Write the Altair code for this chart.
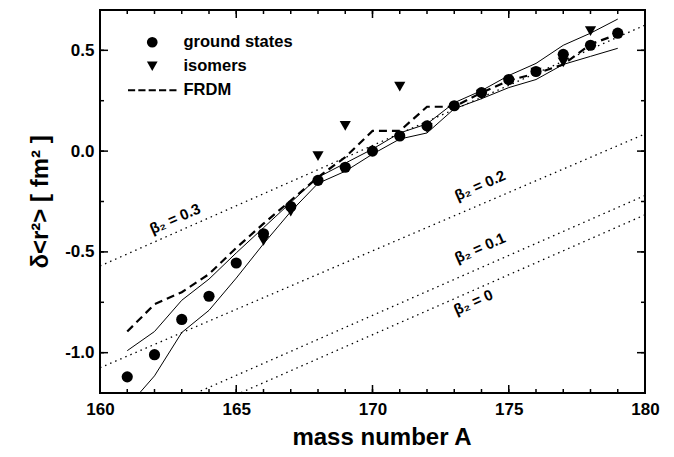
import altair as alt
import pandas as pd

# ---------------- data ----------------
gs_A = [161, 162, 163, 164, 165, 166, 167, 168, 169, 170, 171, 172, 173, 174, 175, 176, 177, 178, 179]
gs_r2 = [-1.12, -1.01, -0.835, -0.72, -0.555, -0.41, -0.275, -0.145, -0.08, 0.0, 0.075, 0.125,
         0.225, 0.29, 0.355, 0.395, 0.48, 0.525, 0.585]

iso_A = [166, 167, 168, 169, 171, 172, 174, 176, 177, 178]
iso_r2 = [-0.445, -0.30, -0.025, 0.125, 0.32, 0.115, 0.28, 0.39, 0.44, 0.595]

frdm_A = [161, 162, 163, 164, 165, 166, 167, 168, 169, 170, 171, 172, 173, 174, 175, 176, 177, 178, 179]
frdm_r2 = [-0.895, -0.76, -0.70, -0.61, -0.48, -0.36, -0.245, -0.13, -0.03, 0.10, 0.10, 0.22,
           0.22, 0.29, 0.35, 0.385, 0.43, 0.53, 0.58]

band_A = [161, 162, 163, 164, 165, 166, 167, 168, 169, 170, 171, 172, 173, 174, 175, 176, 177, 178, 179]
band_upper = [-0.99, -0.895, -0.74, -0.635, -0.505, -0.38, -0.255, -0.13, -0.06, 0.01, 0.09, 0.135,
              0.24, 0.30, 0.375, 0.435, 0.525, 0.585, 0.655]
band_lower = [-1.27, -1.115, -0.90, -0.79, -0.63, -0.46, -0.30, -0.16, -0.10, -0.015, 0.06, 0.09,
              0.21, 0.26, 0.315, 0.355, 0.43, 0.47, 0.51]

beta_names = ["β₂ = 0", "β₂ = 0.1", "β₂ = 0.2", "β₂ = 0.3"]
beta_A = [160, 180]
beta_start = [-1.506, -1.41, -1.075, -0.57]
beta_end = [-0.316, -0.22, 0.085, 0.625]
beta_label_A = [173.7, 173.95, 173.95, 162.75]
beta_label_r2 = [-0.75, -0.48, -0.17, -0.335]

legend_names = ["ground states", "isomers", "FRDM"]

x_ticks_major = [160, 165, 170, 175, 180]
x_ticks_minor = list(range(160, 181))
y_ticks_major = [-1.0, -0.5, 0.0, 0.5]
y_ticks_minor = [-1.0, -0.75, -0.5, -0.25, 0.0, 0.25, 0.5]

# ---------------- tables ----------------
pts = pd.DataFrame({
    "A": gs_A + iso_A,
    "v": gs_r2 + iso_r2,
    "series": ["ground states"] * len(gs_A) + ["isomers"] * len(iso_A),
})
frdm = pd.DataFrame({"A": frdm_A, "v": frdm_r2})
band = pd.concat([
    pd.DataFrame({"A": band_A, "v": band_upper, "b": "upper"}),
    pd.DataFrame({"A": band_A, "v": band_lower, "b": "lower"}),
])
beta_rows = []
for n, s, e in zip(beta_names, beta_start, beta_end):
    beta_rows.append({"A": beta_A[0], "v": s, "beta": n})
    beta_rows.append({"A": beta_A[1], "v": e, "beta": n})
beta = pd.DataFrame(beta_rows)
beta_lab = pd.DataFrame({"A": beta_label_A, "v": beta_label_r2, "label": beta_names})

xmaj = pd.DataFrame({"A": x_ticks_major})
xmin = pd.DataFrame({"A": x_ticks_minor})
ymaj = pd.DataFrame({"v": y_ticks_major})
ymin = pd.DataFrame({"v": y_ticks_minor})

W, H = 545, 383
FONT = "Liberation Sans"

xs = alt.Scale(domain=[160, 180], nice=False, zero=False)
ys = alt.Scale(domain=[-1.2, 0.7], nice=False, zero=False)

xaxis = alt.Axis(values=x_ticks_major, format="d", ticks=False, domain=False, grid=False,
                 labelFont=FONT, labelFontSize=17, labelFontWeight="bold", labelPadding=8,
                 labelColor="black", title="mass number A", titleFont=FONT, titleFontSize=24,
                 titleFontWeight="bold", titleColor="black", titleX=W / 2 + 9, titleY=44,
                 titleBaseline="middle", labelFlush=False)
yaxis = alt.Axis(values=y_ticks_major, ticks=False, domain=False, grid=False,
                 labelExpr="datum.value < 0 ? '-' + format(-datum.value, '.1f') : format(datum.value, '.1f')",
                 labelFont=FONT, labelFontSize=17, labelFontWeight="bold", labelPadding=6,
                 labelColor="black", title="δ<r²> [ fm² ]", titleFont=FONT, titleFontSize=24,
                 titleFontWeight="bold", titleColor="black", titleX=-60, titleY=H / 2,
                 titleBaseline="middle", titleAngle=270, labelFlush=False)

X = alt.X("A:Q", scale=xs, axis=xaxis)
Y = alt.Y("v:Q", scale=ys, axis=yaxis)

# legend symbol for FRDM: five small filled dashes (unit coords, scaled by sqrt(size)/2)
_d = [(-4.52, -3.19), (-2.6, -1.26), (-0.67, 0.67), (1.26, 2.6), (3.19, 4.52)]
dash_path = "".join(f"M{a},-0.2L{b},-0.2L{b},0.2L{a},0.2Z" for a, b in _d)

beta_lines = alt.Chart(beta).mark_line(color="black", strokeWidth=1.3, strokeDash=[1.5, 4],
                                       clip=True).encode(x=X, y=Y, detail="beta:N")
beta_text = alt.Chart(beta_lab).mark_text(font=FONT, fontSize=15, fontWeight="bold", angle=336,
                                          color="black").encode(x=X, y=Y, text="label:N")
band_lines = alt.Chart(band).mark_line(color="black", strokeWidth=1, clip=True).encode(
    x=X, y=Y, detail="b:N")
frdm_line = alt.Chart(frdm).mark_line(color="black", strokeWidth=2.2, strokeDash=[8, 5],
                                      clip=True).encode(x=X, y=Y)
points = alt.Chart(pts).mark_point(filled=True, opacity=1, color="black", size=125).encode(
    x=X, y=Y,
    shape=alt.Shape("series:N",
                    scale=alt.Scale(domain=legend_names,
                                    range=["circle", "triangle-down", dash_path]),
                    legend=alt.Legend(orient="none", legendX=44, legendY=24, title=None,
                                      padding=0, labelFont=FONT, labelFontSize=16.5,
                                      labelFontWeight="bold", labelColor="black",
                                      labelOffset=23, rowPadding=7, symbolSize=115,
                                      symbolFillColor="black", symbolStrokeColor="black",
                                      symbolStrokeWidth=0, symbolType="circle")),
)

tick_w = 1.5
bot_maj = alt.Chart(xmaj).mark_rule(color="black", strokeWidth=tick_w).encode(
    x=X, y=alt.value(H), y2=alt.value(H - 8))
bot_min = alt.Chart(xmin).mark_rule(color="black", strokeWidth=tick_w).encode(
    x=X, y=alt.value(H), y2=alt.value(H - 4))
top_maj = alt.Chart(xmaj).mark_rule(color="black", strokeWidth=tick_w).encode(
    x=X, y=alt.value(0), y2=alt.value(8))
top_min = alt.Chart(xmin).mark_rule(color="black", strokeWidth=tick_w).encode(
    x=X, y=alt.value(0), y2=alt.value(4))
left_maj = alt.Chart(ymaj).mark_rule(color="black", strokeWidth=tick_w).encode(
    y=Y, x=alt.value(0), x2=alt.value(8))
left_min = alt.Chart(ymin).mark_rule(color="black", strokeWidth=tick_w).encode(
    y=Y, x=alt.value(0), x2=alt.value(4))
right_maj = alt.Chart(ymaj).mark_rule(color="black", strokeWidth=tick_w).encode(
    y=Y, x=alt.value(W), x2=alt.value(W - 8))
right_min = alt.Chart(ymin).mark_rule(color="black", strokeWidth=tick_w).encode(
    y=Y, x=alt.value(W), x2=alt.value(W - 4))

chart = alt.layer(
    beta_lines, beta_text, band_lines, frdm_line, points,
    bot_maj, bot_min, top_maj, top_min, left_maj, left_min, right_maj, right_min,
).properties(
    width=W, height=H,
    autosize=alt.AutoSizeParams(type="none"),
    padding={"left": 92, "top": 2, "right": 20, "bottom": 62},
    background="white",
).configure_view(stroke="black", strokeWidth=2)

chart.save("out.html", embed_options={"renderer": "svg", "actions": False})
